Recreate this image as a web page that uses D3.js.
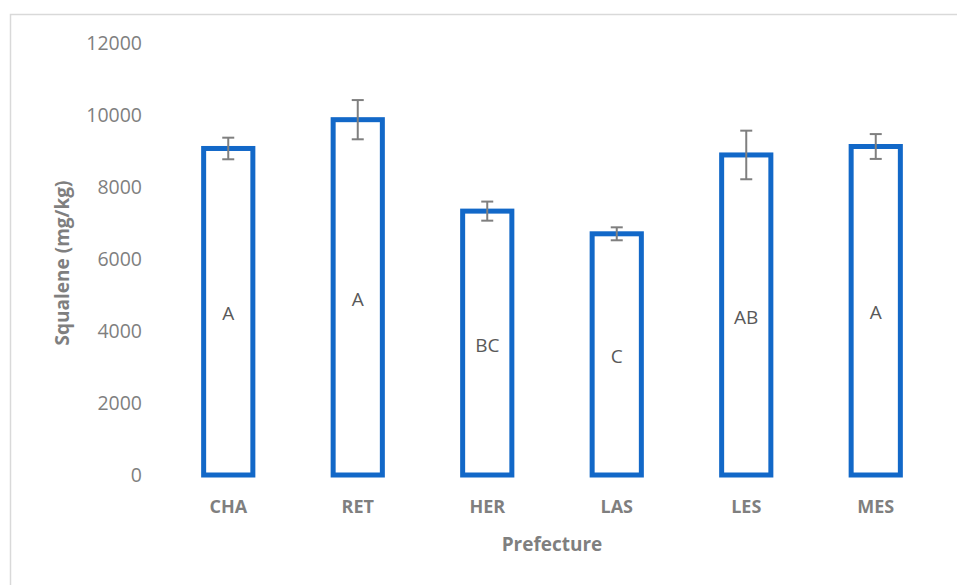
<!DOCTYPE html>
<html>
<head>
<meta charset="utf-8">
<script src="https://cdn.jsdelivr.net/npm/d3@7"></script>
<style>
  html, body { margin: 0; padding: 0; background: #fff; }
  svg { display: block; }
  text { font-family: "Open Sans", "Noto Sans", sans-serif; }
</style>
</head>
<body>
<svg id="chart" width="957" height="585"></svg>
<script>
// Squalene content per prefecture (mg/kg), mean ± error, with group letters
const categories = ["CHA", "RET", "HER", "LAS", "LES", "MES"];
const values = [9070, 9870, 7330, 6700, 8890, 9125];
const errors = [300, 545, 265, 180, 675, 345];
const groups = ["A", "A", "BC", "C", "AB", "A"];
const yTicks = [0, 2000, 4000, 6000, 8000, 10000, 12000];

const svg = d3.select("#chart");
const W = 957, H = 585;

// chart frame
svg.append("rect")
  .attr("x", 10.5).attr("y", 14.5)
  .attr("width", W + 10).attr("height", H + 10)
  .attr("fill", "#fff").attr("stroke", "#d9d9d9").attr("stroke-width", 1.5);

const x = d3.scaleBand()
  .domain(categories)
  .range([163.5, 940.5])
  .paddingInner(0.62)
  .paddingOuter(0.31);

const y = d3.scaleLinear().domain([0, 12000]).range([475, 43]);

// y axis: labels only
const yAxis = d3.axisLeft(y).tickValues(yTicks).tickSize(0).tickPadding(0).tickFormat(d3.format("d"));
const gy = svg.append("g").attr("transform", "translate(142,0)").call(yAxis);
gy.select(".domain").remove();
gy.selectAll("text")
  .attr("fill", "#7f7f7f")
  .style("font-size", "19.5px")
  .attr("dy", "0.35em");

// x axis: category labels only
const xAxis = d3.axisBottom(x).tickSize(0).tickPadding(0);
const gx = svg.append("g").attr("transform", "translate(0,507)").call(xAxis);
gx.select(".domain").remove();
gx.selectAll("text")
  .attr("fill", "#7f7f7f")
  .attr("dy", "0.35em")
  .style("font-size", "18px")
  .style("font-weight", "bold");

// axis titles
svg.append("text")
  .attr("x", 552).attr("y", 544).attr("dy", "0.35em")
  .attr("text-anchor", "middle")
  .attr("fill", "#7f7f7f")
  .style("font-size", "19px").style("font-weight", "bold")
  .text("Prefecture");

svg.append("text")
  .attr("transform", "translate(62,263) rotate(-90)")
  .attr("dy", "0.35em")
  .attr("text-anchor", "middle")
  .attr("fill", "#7f7f7f")
  .style("font-size", "19px").style("font-weight", "bold")
  .text("Squalene (mg/kg)");

const data = categories.map((c, i) => ({ c, v: values[i], e: errors[i], g: groups[i] }));

// outlined bars
svg.append("g").selectAll("rect")
  .data(data).join("rect")
  .attr("x", d => x(d.c))
  .attr("y", d => y(d.v))
  .attr("width", x.bandwidth())
  .attr("height", d => y(0) - y(d.v))
  .attr("fill", "#fff")
  .attr("stroke", "#1268c8")
  .attr("stroke-width", 5);

// error bars
const eg = svg.append("g").attr("stroke", "#7f7f7f").attr("stroke-width", 2);
data.forEach(d => {
  const cx = x(d.c) + x.bandwidth() / 2;
  const y1 = y(d.v + d.e), y2 = y(d.v - d.e);
  eg.append("line").attr("x1", cx).attr("x2", cx).attr("y1", y1).attr("y2", y2);
  eg.append("line").attr("x1", cx - 6).attr("x2", cx + 6).attr("y1", y1).attr("y2", y1);
  eg.append("line").attr("x1", cx - 6).attr("x2", cx + 6).attr("y1", y2).attr("y2", y2);
});

// group letters at the middle of each bar
svg.append("g").selectAll("text")
  .data(data).join("text")
  .attr("x", d => x(d.c) + x.bandwidth() / 2)
  .attr("y", d => (y(d.v) + y(0)) / 2 + 2)
  .attr("dy", "0.35em")
  .attr("text-anchor", "middle")
  .attr("fill", "#595959")
  .style("font-size", "19px")
  .text(d => d.g);
</script>
</body>
</html>
